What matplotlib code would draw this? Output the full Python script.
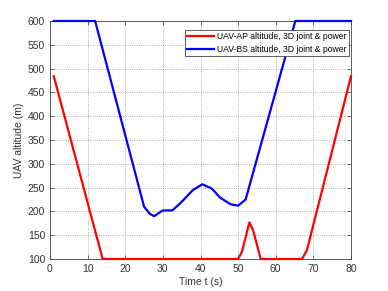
import matplotlib
matplotlib.use("Agg")
import matplotlib.pyplot as plt

plt.rcParams['font.family'] = ['Liberation Sans', 'DejaVu Sans']

ap_t = [1, 14, 50, 51, 53, 54, 56, 67, 68.3, 80]
ap_alt = [484, 100, 100, 115, 177, 160, 100, 100, 119, 484]

bs_t = [1, 12, 25, 26.5, 27.7, 29, 30, 32.5, 34.6, 38, 40.5, 43, 45.2, 48, 50, 52, 65.2, 80]
bs_alt = [600, 600, 210, 195, 190, 197, 202, 202, 217, 245, 257, 248, 229, 215, 212, 225, 600, 600]

xticks = [0, 10, 20, 30, 40, 50, 60, 70, 80]
yticks = [100, 150, 200, 250, 300, 350, 400, 450, 500, 550, 600]

fig = plt.figure(figsize=(3.88, 2.91), dpi=100)
ax = fig.add_axes([50/388, 1-259/291, (351-50)/388, (259-21)/291])
ax.plot(ap_t, ap_alt, color='#ff0000', lw=1.6, label='UAV-AP altitude, 3D joint & power',
        clip_on=False, zorder=5)
ax.plot(bs_t, bs_alt, color='#0000ff', lw=1.6, label='UAV-BS altitude, 3D joint & power',
        clip_on=False, zorder=5)
ax.set_xlim(0, 80)
ax.set_ylim(100, 600)
ax.set_xticks(xticks)
ax.set_yticks(yticks)
ax.grid(True, linestyle=':', color='#999999', lw=0.6)
ax.tick_params(direction='in', top=True, right=True, labelsize=7.5, colors='#333333', length=3, width=0.5)
for s in ax.spines.values():
    s.set_color('#444444')
    s.set_linewidth(0.6)
ax.set_xlabel('Time t (s)', fontsize=7.5, color='#333333', labelpad=2)
ax.set_ylabel('UAV altitude (m)', fontsize=7.5, color='#333333', labelpad=3)
leg = ax.legend(loc='upper right', bbox_to_anchor=(0.993, 0.963), fontsize=6.2, fancybox=False,
                framealpha=1, edgecolor='#444444', borderpad=0.25, handlelength=3.1,
                handletextpad=0.4, labelspacing=0.45, borderaxespad=0)
leg.set_zorder(10)
leg.get_frame().set_linewidth(0.6)
fig.savefig('out.png', dpi=100)
